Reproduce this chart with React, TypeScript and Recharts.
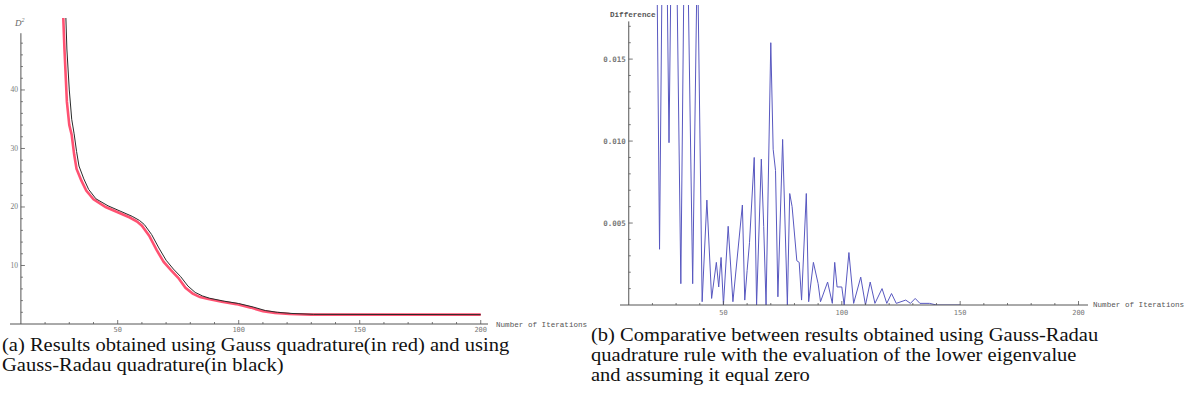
import React from 'react';
import { LineChart, Line, XAxis, YAxis, ReferenceLine } from 'recharts';

// (a) Gauss quadrature (red) and Gauss-Radau quadrature (black), D^2 per iteration
const gaussIter = [27, 28, 29, 30, 31, 32, 33, 35, 37, 40, 45, 50, 55, 58, 60, 63, 66, 69, 72, 75, 78, 81, 84, 87, 93, 99, 105, 110, 115, 121, 130, 200];
const gaussValue = [58, 47, 38, 34, 32.3, 29, 26.5, 24.5, 22.8, 21.3, 20, 19.1, 18.2, 17.5, 16.8, 15.1, 12.7, 10.6, 9.2, 7.9, 6.2, 5.2, 4.6, 4.3, 3.8, 3.4, 2.8, 2.2, 1.9, 1.7, 1.6, 1.6];
const radauIter = [28, 29, 30, 31, 32, 33, 34, 36, 38, 41, 46, 51, 56, 59, 61, 64, 67, 70, 73, 76, 79, 82, 85, 88, 94, 100, 106, 111, 116, 122, 131, 200];
const radauValue = [60, 47, 40, 35, 32.5, 29.5, 27, 24.8, 23, 21.4, 20.2, 19.3, 18.4, 17.7, 17, 15.3, 13, 10.9, 9.4, 8.1, 6.5, 5.4, 4.8, 4.4, 3.9, 3.5, 2.9, 2.3, 2, 1.8, 1.65, 1.6];

// (b) difference between the two Gauss-Radau variants
const diffIter = [21, 23, 25, 27, 29, 32, 34, 37, 39, 41, 43, 45, 47, 48, 49, 50, 52, 54, 58, 59, 60, 61, 63, 64, 66, 67, 68, 70, 71, 72, 73, 75, 77, 78, 79, 81, 82, 83, 85, 86, 88, 90, 91, 94, 96, 97, 98, 100, 101, 103, 105, 108, 110, 112, 114, 117, 119, 121, 123, 127, 129, 131, 133, 137, 140, 150];
const diffValue = [0.035, 0.0034, 0.035, 0.0099, 0.035, 0.0013, 0.03, 0.0013, 0.022, 0.0002, 0.0064, 0.0004, 0.0026, 0.0011, 0.0029, 0.0, 0.0048, 0.0002, 0.0061, 0.0003, 0.0021, 0.0038, 0.009, 0.0, 0.0089, 0.0048, 0.0, 0.016, 0.0095, 0.0082, 0.0005, 0.0101, 0.0, 0.0068, 0.006, 0.0027, 0.0026, 0.0003, 0.0068, 0.0002, 0.0026, 0.0013, 0.0002, 0.0014, 0.0001, 0.0026, 0.0011, 0.0011, 0.0, 0.0032, 0.0001, 0.0017, 0.0, 0.0014, 0.0001, 0.001, 0.0001, 0.0007, 0.0001, 0.0003, 0.0001, 0.0004, 0.0001, 0.0001, 0.0, 0.0];

// ticks
const iterTicks = [20, 30, 40, 50, 60, 70, 80, 90, 100, 110, 120, 130, 140, 150, 160, 170, 180, 190, 200];
const iterMajor = [50, 100, 150, 200];
const d2Ticks = [2, 4, 6, 8, 10, 12, 14, 16, 18, 20, 22, 24, 26, 28, 30, 32, 34, 36, 38, 40, 42, 44, 46, 48];
const d2Major = [10, 20, 30, 40];
const diffTicks = [0.001, 0.002, 0.003, 0.004, 0.005, 0.006, 0.007, 0.008, 0.009, 0.01, 0.011, 0.012, 0.013, 0.014, 0.015, 0.016, 0.017];
const diffMajor = ['0.005', '0.010', '0.015'];

const zip = (xs: number[], ys: number[]) => xs.map((it, i) => ({ it, v: ys[i] }));

const AXIS = '#555';
const LABEL = '#777';

const makeXTick = (major: number[], labelDy: number) => (props: any) => {
  const { x, y, payload } = props;
  const isMajor = major.includes(payload.value);
  return (
    <g>
      <line x1={x} x2={x} y1={y} y2={y - (isMajor ? 4 : 2)} stroke={AXIS} strokeWidth={0.8} />
      {isMajor && (
        <text x={x} y={y + labelDy} textAnchor="middle" fontSize={7} fill={LABEL} fontFamily="DejaVu Sans Mono">
          {payload.value}
        </text>
      )}
    </g>
  );
};

const makeYTick = (offset: number, isMajor: (v: number) => string | null, font: string, weight: string) => (props: any) => {
  const { x, y, payload } = props;
  const label = isMajor(payload.value);
  const ax = x + offset;
  return (
    <g>
      <line x1={ax} x2={ax + (label ? 4 : 2)} y1={y} y2={y} stroke={AXIS} strokeWidth={0.8} />
      {label && (
        <text x={ax - 3} y={y + 2.5} textAnchor="end" fontSize={7.5} fill={LABEL} fontFamily={font} fontWeight={weight}>
          {label}
        </text>
      )}
    </g>
  );
};

// left chart geometry (axis boxes: x-axis 20px tall, y-axis 10px wide)
const L_W = 600, L_H = 345;
const L_YW = 10, L_XH = 20;
const L_MARGIN = { top: 18, right: 112, left: 0, bottom: 1 };
const L_X = [5.5, 203];
const L_Y = [0, 52.3];
const L_OFF = ((10 - L_X[0]) * (L_W - L_YW - L_MARGIN.right)) / (L_X[1] - L_X[0]);

// right chart geometry
const R_W = 597, R_H = 320;
const R_YW = 30, R_XH = 14;
const R_MARGIN = { top: 5, right: 99, left: 0, bottom: 1 };
const R_X = [6.3, 204];
const R_Y = [0, 0.0183];
const R_OFF = ((10 - R_X[0]) * (R_W - R_YW - R_MARGIN.right)) / (R_X[1] - R_X[0]);

const caption: React.CSSProperties = {
  position: 'absolute',
  fontFamily: '"Liberation Serif", "Times New Roman", serif',
  fontSize: 18,
  lineHeight: '20px',
  color: '#111',
  whiteSpace: 'nowrap',
  transform: 'scaleX(1.14)',
  transformOrigin: 'left top',
};

const small: React.CSSProperties = {
  position: 'absolute',
  fontFamily: '"Liberation Mono", "DejaVu Sans Mono", monospace',
  fontSize: 7.6,
  color: '#555',
  whiteSpace: 'nowrap',
};

export default function App() {
  return (
    <div style={{ position: 'absolute', left: 0, top: 0, width: 1187, height: 412, background: '#fff', overflow: 'hidden' }}>
      <div style={{ position: 'absolute', left: 0, top: 0 }}>
        <LineChart width={L_W} height={L_H} margin={L_MARGIN}>
          <XAxis
            type="number"
            dataKey="it"
            domain={L_X}
            allowDataOverflow
            ticks={iterTicks}
            interval={0}
            height={L_XH}
            tickSize={0}
            tickMargin={0}
            stroke={AXIS}
            tick={makeXTick(iterMajor, 8)}
          />
          <YAxis
            type="number"
            dataKey="v"
            domain={L_Y}
            allowDataOverflow
            ticks={d2Ticks}
            interval={0}
            width={L_YW}
            tickSize={0}
            tickMargin={0}
            axisLine={false}
            tick={makeYTick(L_OFF, (v) => (d2Major.includes(v) ? String(v) : null), '"Liberation Serif", serif', 'normal')}
          />
          <ReferenceLine segment={[{ x: 10, y: 0 }, { x: 10, y: 49.7 }]} stroke={AXIS} strokeWidth={1} />
          <Line data={zip(gaussIter, gaussValue)} dataKey="v" stroke="#ff5272" strokeWidth={2.6} dot={false} isAnimationActive={false} />
          <Line data={zip(radauIter, radauValue)} dataKey="v" stroke="#2a2a2a" strokeWidth={1} dot={false} isAnimationActive={false} />
        </LineChart>
      </div>
      <div style={{ ...small, left: 15, top: 17, fontFamily: '"Liberation Serif", serif', fontStyle: 'italic', fontSize: 9, color: '#666' }}>
        D<sup style={{ fontSize: 6 }}>2</sup>
      </div>
      <div style={{ ...small, left: 496, top: 321 }}>Number of Iterations</div>

      <div style={{ position: 'absolute', left: 590, top: 0 }}>
        <LineChart width={R_W} height={R_H} margin={R_MARGIN}>
          <XAxis
            type="number"
            dataKey="it"
            domain={R_X}
            allowDataOverflow
            ticks={iterTicks}
            interval={0}
            height={R_XH}
            tickSize={0}
            tickMargin={0}
            stroke={AXIS}
            tick={makeXTick(iterMajor, 10)}
          />
          <YAxis
            type="number"
            dataKey="v"
            domain={R_Y}
            allowDataOverflow
            ticks={diffTicks}
            interval={0}
            width={R_YW}
            tickSize={0}
            tickMargin={0}
            axisLine={false}
            tick={makeYTick(R_OFF, (v) => {
              const s = v.toFixed(3);
              return diffMajor.includes(s) ? s : null;
            }, '"DejaVu Sans Mono", monospace', 'bold')}
          />
          <ReferenceLine segment={[{ x: 10, y: 0 }, { x: 10, y: 0.0173 }]} stroke={AXIS} strokeWidth={1} />
          <Line data={zip(diffIter, diffValue)} dataKey="v" stroke="#5858c0" strokeWidth={1} dot={false} isAnimationActive={false} />
        </LineChart>
      </div>
      <div style={{ ...small, left: 610, top: 11, fontWeight: 'bold' }}>Difference</div>
      <div style={{ ...small, left: 1093, top: 301 }}>Number of Iterations</div>

      <div style={{ ...caption, left: 2, top: 335 }}>
        (a) Results obtained using Gauss quadrature(in red) and using
        <br />
        Gauss-Radau quadrature(in black)
      </div>
      <div style={{ ...caption, left: 591, top: 325 }}>
        (b) Comparative between results obtained using Gauss-Radau
        <br />
        quadrature rule with the evaluation of the lower eigenvalue
        <br />
        and assuming it equal zero
      </div>
    </div>
  );
}
